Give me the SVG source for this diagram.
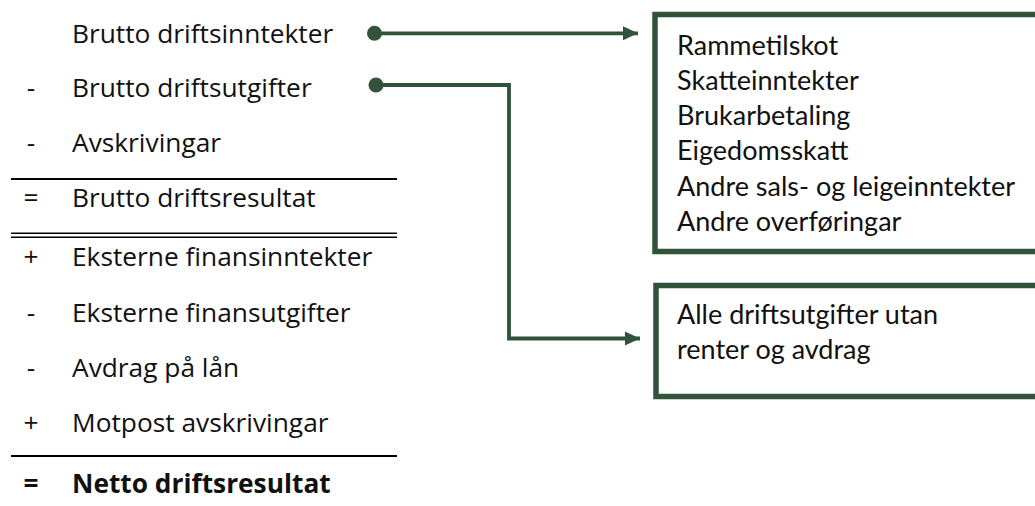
<svg xmlns="http://www.w3.org/2000/svg" width="1035" height="506" viewBox="0 0 1035 506">
<defs>
<style>
.l{font-family:"Open Sans","Noto Sans",sans-serif;font-size:26.3px;fill:#111}
.s{font-family:"Open Sans","Noto Sans",sans-serif;font-size:26.3px;fill:#111;text-anchor:middle}
.b{font-weight:bold}
.r{font-family:Lato,"Open Sans",sans-serif;font-size:27px;fill:#111}
.rule{stroke:#000;stroke-width:1.8;fill:none}
.box{fill:#fff;stroke:#32523A;stroke-width:5.5}
.con{stroke:#32523A;stroke-width:3.8;fill:none}
</style>
<marker id="ah" viewBox="0 0 10 10" refX="10" refY="5" markerWidth="15" markerHeight="15" markerUnits="userSpaceOnUse" orient="auto"><path d="M0,0.3 L10,5 L0,9.7 z" fill="#32523A"/></marker>
</defs>
<rect width="1035" height="506" fill="#fff"/>
<g id="list">
<text class="l" x="72" y="43">Brutto driftsinntekter</text>
<text class="s" x="31" y="97">-</text><text class="l" x="72" y="97">Brutto driftsutgifter</text>
<text class="s" x="31" y="152">-</text><text class="l" x="72" y="152">Avskrivingar</text>
<line class="rule" x1="11" y1="179" x2="397" y2="179"/>
<text class="s" x="31" y="207">=</text><text class="l" x="72" y="207">Brutto driftsresultat</text>
<line class="rule" x1="11" y1="233.3" x2="397" y2="233.3" style="stroke-width:1.5"/>
<line class="rule" x1="11" y1="237.3" x2="397" y2="237.3" style="stroke-width:1.5"/>
<text class="s" x="31" y="266">+</text><text class="l" x="72" y="266">Eksterne finansinntekter</text>
<text class="s" x="31" y="322">-</text><text class="l" x="72" y="322">Eksterne finansutgifter</text>
<text class="s" x="31" y="377">-</text><text class="l" x="72" y="377">Avdrag på lån</text>
<text class="s" x="31" y="432">+</text><text class="l" x="72" y="432">Motpost avskrivingar</text>
<line class="rule" x1="11" y1="456" x2="397" y2="456"/>
<text class="s b" x="31" y="493">=</text><text class="l b" x="72" y="493">Netto driftsresultat</text>
</g>
<g id="box-inntekter">
<rect class="box" x="655" y="14.5" width="400" height="237"/>
<text class="r" x="677" y="54.5">Rammetilskot</text>
<text class="r" x="677" y="89.8">Skatteinntekter</text>
<text class="r" x="677" y="125.1">Brukarbetaling</text>
<text class="r" x="677" y="160.4">Eigedomsskatt</text>
<text class="r" x="677" y="195.7">Andre sals- og leigeinntekter</text>
<text class="r" x="677" y="231">Andre overføringar</text>
</g>
<g id="box-utgifter">
<rect class="box" x="656" y="285.5" width="400" height="111"/>
<text class="r" x="677" y="324">Alle driftsutgifter utan</text>
<text class="r" x="677" y="359">renter og avdrag</text>
</g>
<g id="connectors">
<circle cx="374.5" cy="33.3" r="7.5" fill="#32523A"/>
<path class="con" d="M375,33.3 H638" marker-end="url(#ah)"/>
<circle cx="376" cy="85" r="7.5" fill="#32523A"/>
<path class="con" d="M376,85 H509 V338.5 H640" marker-end="url(#ah)"/>
</g>
</svg>
